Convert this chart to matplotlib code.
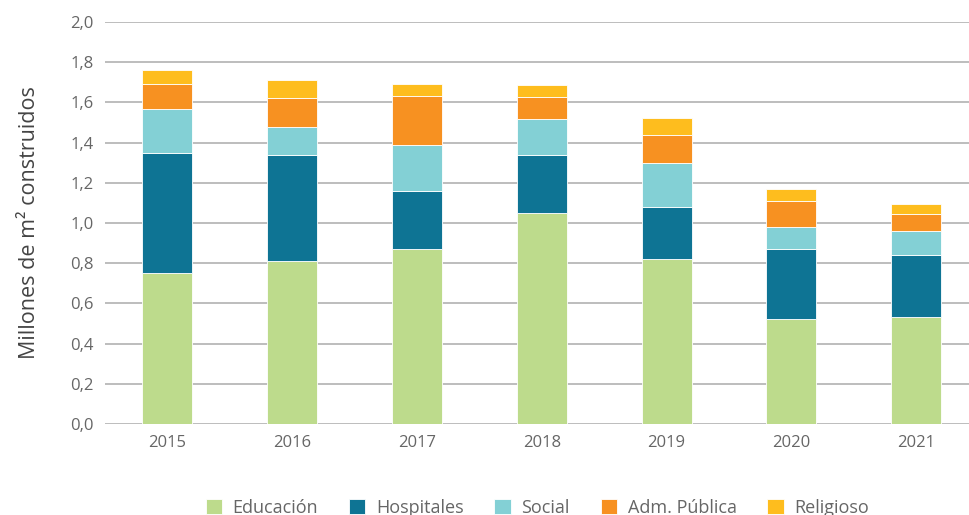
import numpy as np
import matplotlib.pyplot as plt

years = ['2015', '2016', '2017', '2018', '2019', '2020', '2021']
educacion = [0.75, 0.81, 0.87, 1.05, 0.82, 0.52, 0.53]
hospitales = [0.60, 0.53, 0.29, 0.29, 0.26, 0.35, 0.31]
social = [0.22, 0.14, 0.23, 0.18, 0.22, 0.11, 0.12]
adm_publica = [0.12, 0.14, 0.24, 0.105, 0.14, 0.13, 0.085]
religioso = [0.07, 0.09, 0.06, 0.06, 0.085, 0.06, 0.05]

series = [('Educación', educacion, '#bddb8c'),
          ('Hospitales', hospitales, '#0e7494'),
          ('Social', social, '#83d0d5'),
          ('Adm. Pública', adm_publica, '#f79121'),
          ('Religioso', religioso, '#febd1e')]

plt.rcParams['font.family'] = ['Open Sans', 'DejaVu Sans']

fig = plt.figure(figsize=(9.7, 5.15), dpi=100)
ax = fig.add_axes([0.108, 0.177, 0.892, 0.78])

x = np.arange(len(years))
bottom = np.zeros(len(years))
for name, vals, color in series:
    ax.bar(x, vals, 0.4, bottom=bottom, color=color, label=name,
           edgecolor='white', linewidth=0.6, zorder=3)
    bottom += np.array(vals)

ax.set_ylim(0, 2.0)
ax.set_xlim(-0.5, 6.43)
yt = np.arange(0, 2.01, 0.2)
ax.set_yticks(yt)
ax.set_yticklabels([f'{v:.1f}'.replace('.', ',') for v in yt])
ax.set_xticks(x)
ax.set_xticklabels(years)
ax.grid(axis='y', color='#b8b8b8', linewidth=1.3, zorder=0)
ax.tick_params(length=0, labelsize=12, colors='#666666', pad=8)
for s in ax.spines.values():
    s.set_visible(False)
ax.set_ylabel('Millones de m² construidos', fontsize=15.5, color='#444444', labelpad=22)

leg = fig.legend(loc='lower center', ncol=5, bbox_to_anchor=(0.554, -0.035),
                 frameon=False, fontsize=13, handlelength=0.9, handleheight=0.9,
                 columnspacing=1.7, handletextpad=0.6)
for t in leg.get_texts():
    t.set_color('#666666')

fig.savefig('out.png', dpi=100)
